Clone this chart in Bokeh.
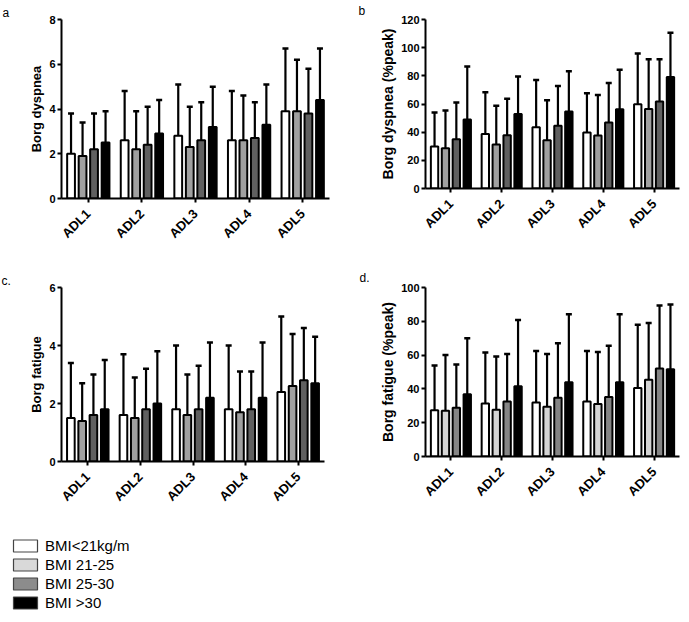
import math
from bokeh.plotting import figure
from bokeh.models import (ColumnDataSource, Range1d, FixedTicker, Whisker,
                          TeeHead, Legend, LegendItem)
from bokeh.transform import dodge
from bokeh.layouts import column, row
from bokeh.embed import file_html
from bokeh.resources import INLINE

adl = ["ADL1", "ADL2", "ADL3", "ADL4", "ADL5"]
groups = ["BMI<21kg/m", "BMI 21-25", "BMI 25-30", "BMI >30"]

# panel a: Borg dyspnea (mean, SD) per BMI group across ADL1..ADL5
a_mean = [[2.0, 2.6, 2.8, 2.6, 3.9],
          [1.9, 2.2, 2.3, 2.6, 3.9],
          [2.2, 2.4, 2.6, 2.7, 3.8],
          [2.5, 2.9, 3.2, 3.3, 4.4]]
a_sd = [[1.8, 2.2, 2.3, 2.2, 2.8],
        [1.5, 1.7, 1.8, 2.0, 2.3],
        [1.6, 1.7, 1.7, 1.6, 2.0],
        [1.4, 1.5, 1.8, 1.8, 2.3]]

# panel b: Borg dyspnea (%peak)
b_mean = [[29.8, 38.7, 43.5, 39.7, 59.8],
          [28.6, 31.2, 34.3, 37.6, 56.5],
          [35.0, 37.8, 44.6, 46.8, 61.7],
          [49.0, 52.9, 54.6, 56.2, 79.1]]
b_sd = [[24.1, 29.6, 33.5, 27.9, 36.1],
        [26.7, 27.6, 28.3, 28.8, 35.2],
        [26.0, 26.0, 28.2, 28.1, 30.0],
        [37.7, 26.7, 28.6, 28.1, 31.5]]

# panel c: Borg fatigue
c_mean = [[1.5, 1.6, 1.8, 1.8, 2.4],
          [1.4, 1.5, 1.6, 1.7, 2.6],
          [1.6, 1.8, 1.8, 1.8, 2.8],
          [1.8, 2.0, 2.2, 2.2, 2.7]]
c_sd = [[1.9, 2.1, 2.2, 2.2, 2.6],
        [1.3, 1.4, 1.4, 1.4, 1.8],
        [1.4, 1.4, 1.5, 1.3, 1.8],
        [1.7, 1.8, 1.9, 1.9, 1.6]]

# panel d: Borg fatigue (%peak)
d_mean = [[27.3, 31.4, 32.0, 32.6, 40.5],
          [27.1, 27.7, 29.5, 31.0, 45.4],
          [28.9, 32.6, 34.8, 35.2, 52.1],
          [36.9, 41.5, 44.0, 44.0, 51.7]]
d_sd = [[26.5, 30.1, 30.5, 29.9, 37.5],
        [33.0, 31.4, 31.2, 30.9, 33.6],
        [25.5, 28.1, 32.2, 30.4, 37.3],
        [33.0, 39.2, 40.1, 40.1, 38.3]]

a_ticks = [0, 2, 4, 6, 8]
b_ticks = [0, 20, 40, 60, 80, 100, 120]
c_ticks = [0, 2, 4, 6]
d_ticks = [0, 20, 40, 60, 80, 100]

colors_abc = ["white", "#a0a0a0", "#606060", "black"]
colors_d = ["white", "#d4d4d4", "#858585", "black"]
legend_colors = ["white", "#d9d9d9", "#8c8c8c", "black"]

offsets = [-0.322, -0.107, 0.107, 0.322]
BAR_W = 0.145
FONT = "Liberation Sans"


def panel(means, sds, ymax, yticks, ylabel, colors, letter, fw, fh,
          bl, bt, br, bb, t_off, t_stand, title_size):
    p = figure(x_range=adl, y_range=Range1d(0, ymax),
               frame_width=fw, frame_height=fh,
               min_border_left=bl, min_border_top=bt,
               min_border_right=br, min_border_bottom=bb,
               output_backend="svg", toolbar_location=None)
    p.x_range.range_padding = 0
    p.outline_line_color = None
    p.xgrid.visible = False
    p.ygrid.visible = False
    p.background_fill_color = "white"
    p.border_fill_color = "white"

    # panel letter as the plot title, shifted to the left of the frame
    p.title.text = letter
    p.title.align = "left"
    p.title.offset = t_off
    p.title.standoff = t_stand
    p.title.text_font = FONT
    p.title.text_font_style = "normal"
    p.title.text_font_size = "12px"
    p.title.text_color = "black"

    for i in range(4):
        upper = [m + s for m, s in zip(means[i], sds[i])]
        src = ColumnDataSource(dict(x=adl, top=means[i], upper=upper))
        w = Whisker(source=src, base=dodge("x", offsets[i], range=p.x_range),
                    lower="top", upper="upper", line_width=2.2,
                    line_color="black",
                    upper_head=TeeHead(size=6, line_width=2.5, line_color="black"),
                    lower_head=None)
        p.add_layout(w)
        p.vbar(x=dodge("x", offsets[i], range=p.x_range), top="top",
               width=BAR_W, bottom=0, source=src, fill_color=colors[i],
               line_color="black", line_width=2)

    ya = p.yaxis[0]
    ya.ticker = FixedTicker(ticks=yticks)
    ya.minor_tick_line_color = None
    ya.axis_line_width = 2
    ya.major_tick_line_width = 2
    ya.major_tick_out = 4
    ya.major_tick_in = 0
    ya.major_label_standoff = 2
    ya.major_label_text_font = FONT
    ya.major_label_text_font_style = "bold"
    ya.major_label_text_font_size = "11px"
    ya.major_label_text_color = "black"
    ya.axis_label = ylabel
    ya.axis_label_text_font = FONT
    ya.axis_label_text_font_style = "bold"
    ya.axis_label_text_font_size = title_size
    ya.axis_label_text_color = "black"
    ya.axis_label_standoff = 2

    xa = p.xaxis[0]
    xa.axis_line_width = 2
    xa.major_tick_line_width = 2
    xa.major_tick_out = 4
    xa.major_tick_in = 0
    xa.minor_tick_line_color = None
    xa.major_label_orientation = math.pi / 4
    xa.major_label_standoff = 9
    xa.major_label_text_font = FONT
    xa.major_label_text_font_style = "bold"
    xa.major_label_text_font_size = "13px"
    xa.major_label_text_color = "black"
    return p


pa = panel(a_mean, a_sd, 8, a_ticks, "Borg dyspnea", colors_abc, "a",
           268, 179, 61, 16, 10, 71, -59, 0, "13px")
pb = panel(b_mean, b_sd, 120, b_ticks, "Borg dyspnea (%peak)", colors_abc, "b",
           254, 169, 86, 19, 1, 78, -67, 3, "14px")
pc = panel(c_mean, c_sd, 6, c_ticks, "Borg fatigue", colors_abc, "c.",
           263, 174, 61, 17, 15, 69, -60, 0, "13px")
pd = panel(d_mean, d_sd, 100, d_ticks, "Borg fatigue (%peak)", colors_d, "d.",
           254, 169, 86, 21, 1, 70, -66, 5, "14px")

# legend panel
pl = figure(width=250, height=88, min_border_left=5, min_border_right=0,
            min_border_top=6, min_border_bottom=0,
            x_range=Range1d(0, 1), y_range=Range1d(0, 1),
            output_backend="svg", toolbar_location=None)
pl.axis.visible = False
pl.grid.visible = False
pl.outline_line_color = None
items = []
for g, col in zip(groups, legend_colors):
    r = pl.rect(x=[-10], y=[-10], width=1, height=1, fill_color=col,
                line_color="#444444", line_width=1.2)
    items.append(LegendItem(label=g, renderers=[r]))
leg = Legend(items=items, location="top_left", margin=5, padding=0,
             spacing=2, glyph_width=30, glyph_height=15, label_height=16,
             label_standoff=5, label_text_font=FONT,
             label_text_font_size="15px", label_text_color="black",
             label_text_line_height=1.0,
             border_line_color=None, background_fill_alpha=0)
pl.add_layout(leg)

layout = column(row(pa, pb), row(pc, pd), pl)

open("out.html", "w").write(file_html(layout, INLINE))
